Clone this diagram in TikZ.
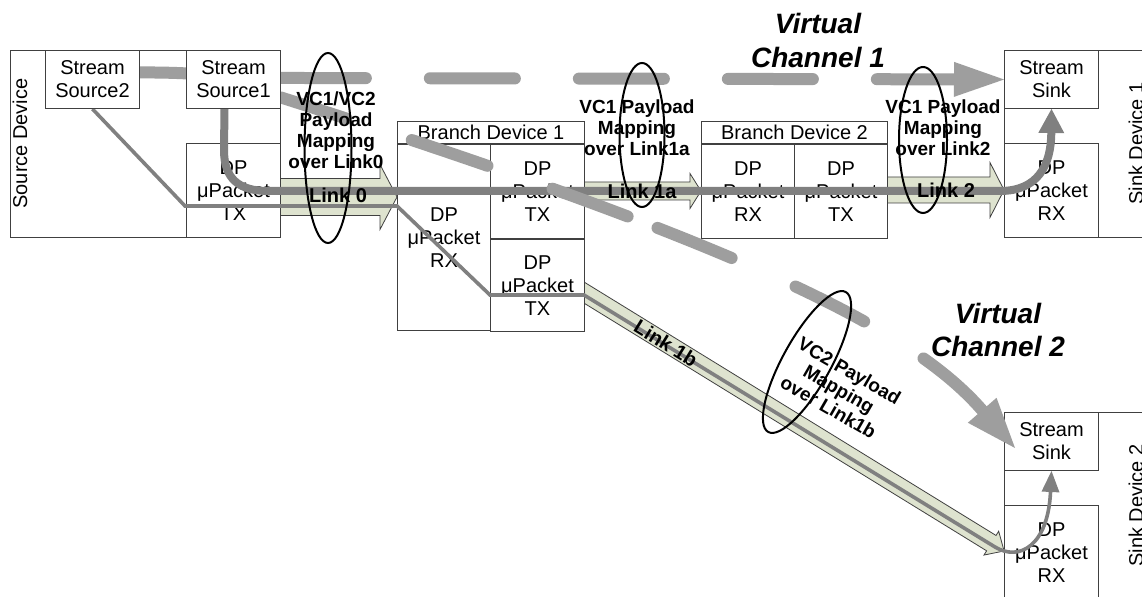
\documentclass[tikz,border=0pt]{standalone}
\usepackage{fontspec}
\setmainfont{Liberation Sans}
\usepackage{tikz}
\usetikzlibrary{positioning, arrows.meta, calc}
\definecolor{boxline}{RGB}{64,64,64}
\definecolor{linkfill}{RGB}{222,227,207}
\definecolor{pathgray}{RGB}{128,128,128}
\definecolor{dashgray}{RGB}{158,158,158}
\pgfdeclarelayer{back}
\pgfdeclarelayer{front}
\pgfsetlayers{back,main,front}

\begin{document}
\begin{tikzpicture}[x=0.5pt, y=-0.5pt,
    devbox/.style={draw=boxline, line width=0.5pt, inner sep=0pt},
    unitbox/.style={devbox, fill=white, align=center, minimum width=47pt,
      font=\fontsize{10}{11.5}\selectfont},
    devlabel/.style={rotate=90, font=\fontsize{10}{12}\selectfont},
    titlebox/.style={devbox, minimum height=11pt, font=\fontsize{10}{12}\selectfont},
    linkbody/.style={draw=black!75, line width=0.4pt, fill=linkfill},
    pics/linkarrow/.style n args={4}{code={
      \draw[linkbody] (0,-#2) -- (#1-#4,-#2) -- (#1-#4,-#3) -- (#1,0)
        -- (#1-#4,#3) -- (#1-#4,#2) -- (0,#2) -- cycle;}},
    vcone/.style={draw=pathgray, line width=4pt},
    vctwo/.style={draw=pathgray, line width=1.8pt},
    vcdash/.style={draw=dashgray, line width=6pt, line cap=round},
    lens/.style={draw=black, line width=1pt},
    payload/.style={align=center, font=\fontsize{9.5}{10.5}\selectfont\bfseries},
    linklabel/.style={font=\fontsize{10}{12}\selectfont\bfseries},
    vctitle/.style={align=center, font=\fontsize{14}{17}\selectfont\bfseries\itshape}]
  \useasboundingbox (0,0) rectangle (1142,597);
  \clip (0,0) rectangle (1142,597);

  % source device
  \node[devbox, minimum width=135pt, minimum height=93.5pt, anchor=north west] (srcdev) at (10,50) {};
  \node[devlabel] (srclabel) at (20,143.5) {Source Device};
  \node[unitbox, minimum height=47pt, anchor=south east] (srctx) at (srcdev.south east) {DP\\μPacket\\TX};
  \begin{pgfonlayer}{front}
    \node[unitbox, minimum height=29pt, anchor=north west] (ssrctwo) at (45,50) {Stream\\Source2};
    \node[unitbox, minimum height=29pt, anchor=north east] (ssrcone) at (srcdev.north east) {Stream\\Source1};
  \end{pgfonlayer}

  % branch device 1
  \node[devbox, minimum width=93.5pt, minimum height=104pt, anchor=north west] (bdone) at (397,121) {};
  \node[titlebox, minimum width=93.5pt, anchor=north] (bdonetitle) at (bdone.north) {Branch Device 1};
  \node[unitbox, minimum width=46.5pt, minimum height=93pt, anchor=north west] (bdonerx) at (bdonetitle.south west) {DP\\μPacket\\RX};
  \node[unitbox, minimum height=47pt, anchor=north east] (bdonetxa) at (bdonetitle.south east) {DP\\μPacket\\TX};
  \node[unitbox, minimum height=46pt, anchor=north east] (bdonetxb) at (bdonetxa.south east) {DP\\μPacket\\TX};

  % branch device 2
  \node[devbox, minimum width=93pt, minimum height=58pt, anchor=north west] (bdtwo) at (701,121) {};
  \node[titlebox, minimum width=93pt, anchor=north] (bdtwotitle) at (bdtwo.north) {Branch Device 2};
  \node[unitbox, minimum width=46.5pt, minimum height=47pt, anchor=north west] (bdtworx) at (bdtwotitle.south west) {DP\\μPacket\\RX};
  \node[unitbox, minimum width=46.5pt, minimum height=47pt, anchor=north east] (bdtwotx) at (bdtwotitle.south east) {DP\\μPacket\\TX};

  % sink devices
  \node[devbox, minimum width=90pt, minimum height=93.5pt, anchor=north west] (sinkone) at (1004,50) {};
  \node[unitbox, minimum height=29pt, anchor=north west] (sinkonestream) at (sinkone.north west) {Stream\\Sink};
  \node[unitbox, minimum height=47pt, anchor=south west] (sinkonerx) at (sinkone.south west) {DP\\μPacket\\RX};
  \node[devlabel] (sinkonelabel) at (1136,143.5) {Sink Device 1};
  \node[devbox, minimum width=90pt, minimum height=93.5pt, anchor=north west] (sinktwo) at (1004,412) {};
  \node[unitbox, minimum height=29pt, anchor=north west] (sinktwostream) at (sinktwo.north west) {Stream\\Sink};
  \node[unitbox, minimum height=47pt, anchor=south west] (sinktworx) at (sinktwo.south west) {DP\\μPacket\\RX};
  \node[devlabel] (sinktwolabel) at (1136,505.5) {Sink Device 2};

  % links
  \begin{pgfonlayer}{back}
    \fill[white] (0,0) rectangle (1142,597);
    \pic at (280,197) {linkarrow={117}{18.5}{32.5}{17}};
    \pic at (584,191) {linkarrow={117}{9}{17.5}{11}};
    \pic at (887,190) {linkarrow={117}{13}{27.5}{14}};
    \pic[rotate=-31.6] at (574,286.4) {linkarrow={505}{9}{14}{15}};
  \end{pgfonlayer}

  % stream paths
  \draw[vcone, -{Triangle[length=12pt, width=13pt, line width=0pt]}] ([xshift=-4.5pt]ssrcone.south) -- (224,150)
    .. controls (224,178) and (238,191) .. (268,191) -- (1000,191)
    .. controls (1038,191) and (1051,165) .. (sinkonestream.south);
  \draw[vctwo, -{Triangle[length=10.5pt, width=9pt, line width=0pt]}] (ssrctwo.south) -- (185,206) -- (397,206)
    -- (490,295) -- (584,295) -- (995,547)
    .. controls (1020,562) and (1048,545) .. (sinktwostream.south);

  % virtual channels
  \draw[vcdash, dash pattern=on 42.5pt off 32pt, dash phase=4pt,
    -{Triangle[length=25pt, width=17.5pt, line width=0pt]}] ([yshift=3.5pt]ssrctwo.east)
    .. controls (200,72) and (230,78) .. (300,78) -- (sinkonestream.west);
  \draw[vcdash, dash pattern=on 40pt off 34.5pt on 40pt off 34.5pt on 40pt off 16pt
    on 40pt off 35pt on 38.5pt off 35pt on 150pt off 50pt, dash phase=5.75pt,
    -{Triangle[length=25pt, width=19pt, line width=0pt]}] ([yshift=-9pt]ssrcone.east)
    .. controls (760,250) and (915,333) .. ([shift={(5.5pt,-18pt)}]sinktwostream.north west);

  % payload mapping
  \draw[lens] (328,148) ellipse [x radius=23.5, y radius=95];
  \draw[lens] (642,135) ellipse [x radius=22.5, y radius=72];
  \draw[lens] (923,140) ellipse [x radius=24, y radius=73];
  \draw[lens, rotate around={-29:(807,362)}] (807,362) ellipse [x radius=24, y radius=80];

  \node[payload] (mapzero) at (336,130) {VC1/VC2\\Payload\\Mapping\\over Link0};
  \node[payload] (maponea) at (637,128) {VC1 Payload\\Mapping\\over Link1a};
  \node[payload] (maptwo) at (943,128) {VC1 Payload\\Mapping\\over Link2};
  \node[payload, rotate=-30] (maponeb) at (839,389) {VC2 Payload\\Mapping\\over Link1b};
  \node[linklabel] (linkzero) at (338,195) {Link 0};
  \node[linklabel] (linkonea) at (642,191) {Link 1a};
  \node[linklabel] (linktwo) at (946,190) {Link 2};
  \node[linklabel, rotate=-31.6] (linkoneb) at (666,343) {Link 1b};
  \node[vctitle] (vconetitle) at (818,41) {Virtual\\Channel 1};
  \node[vctitle] (vctwotitle) at (998,330) {Virtual\\Channel 2};
\end{tikzpicture}
\end{document}
